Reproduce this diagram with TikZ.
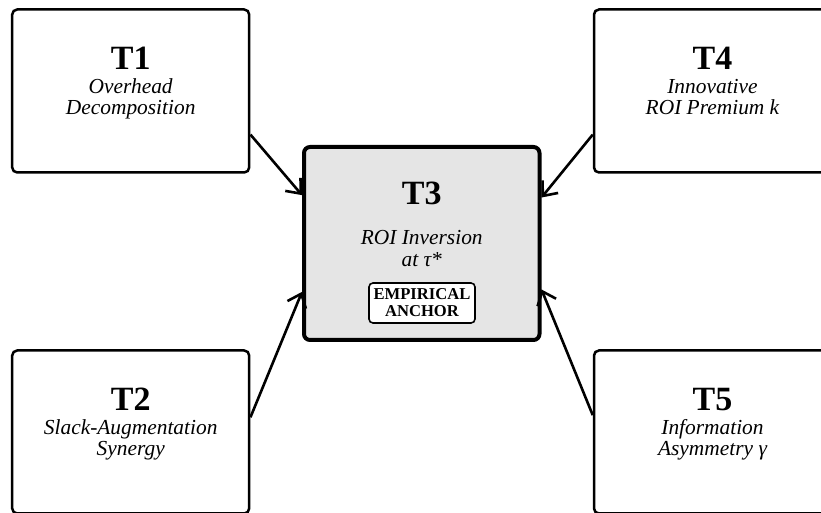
\documentclass[tikz,border=0pt]{standalone}
\usepackage{fontspec}
\setmainfont{Liberation Serif}
\usetikzlibrary{arrows.meta}
\begin{document}
\begin{tikzpicture}[x=0.5pt,y=-0.5pt,
  box/.style={draw=black, line width=1.25pt, rounded corners=2.5pt, fill=white,
    minimum width=118.5pt, minimum height=81.5pt, inner sep=0pt},
  centralbox/.style={draw=black, line width=2pt, rounded corners=3pt, fill=black!10,
    minimum width=117.75pt, minimum height=96.5pt, inner sep=0pt},
  anchorbox/.style={draw=black, line width=0.8pt, rounded corners=2pt, fill=white,
    minimum width=53pt, minimum height=20pt, inner sep=0pt, align=center,
    font=\fontsize{8.3}{8.5}\selectfont\bfseries},
  ttl/.style={anchor=base, inner sep=0pt, font=\fontsize{17}{17}\selectfont\bfseries},
  sub/.style={anchor=base, inner sep=0pt, font=\fontsize{10.7}{10.5}\selectfont\itshape},
  link/.style={line width=1.3pt, -{Straight Barb[length=6pt,width=10pt,line width=1.3pt]}}
]
\clip (0,0) rectangle (821,513);
\fill[white] (0,0) rectangle (821,513);

% boxes
\node[box] (t1) at (130.7,91) {};
\node[box] (t2) at (130.7,432) {};
\node[box] (t4) at (712.5,91) {};
\node[box] (t5) at (712.5,432) {};
\node[centralbox] (t3) at (421.75,243.5) {};

% T1 text
\node[ttl] (t1a) at (130.7,70) {T1};
\node[sub] (t1b) at (130.7,94) {Overhead};
\node[sub] (t1c) at (130.7,115) {Decomposition};

% T2 text
\node[ttl] (t2a) at (130.7,411) {T2};
\node[sub] (t2b) at (130.7,434.5) {Slack-Augmentation};
\node[sub] (t2c) at (130.7,455.5) {Synergy};

% T4 text
\node[ttl] (t4a) at (712.5,70) {T4};
\node[sub] (t4b) at (712.5,94) {Innovative};
\node[sub] (t4c) at (712.5,115) {ROI Premium k};

% T5 text
\node[ttl] (t5a) at (712.5,411) {T5};
\node[sub] (t5b) at (712.5,434.5) {Information};
\node[sub] (t5c) at (712.5,455.5) {Asymmetry γ};

% T3 text
\node[ttl] (t3a) at (421.75,205) {T3};
\node[sub] (t3b) at (421.75,245) {ROI Inversion};
\node[sub] (t3c) at (421.75,267) {at τ*};
\node[anchorbox] (t3d) at (422,303) {EMPIRICAL\\ANCHOR};

% connectors
\draw[link] (t1.-20.4) -- (t3.158.9);
\draw[link] (t2.7.2) -- (t3.-158.5);
\draw[link] (t4.200.8) -- (t3.21.1);
\draw[link] (t5.172.8) -- (t3.-21.5);
\end{tikzpicture}
\end{document}
